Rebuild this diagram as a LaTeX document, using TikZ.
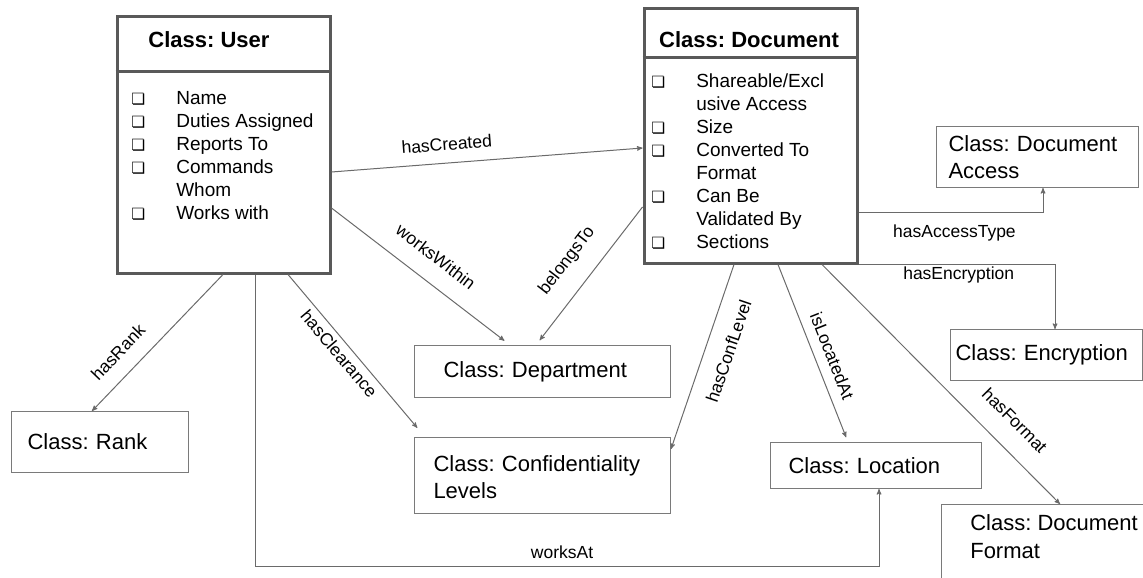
\documentclass[tikz,border=0pt]{standalone}
\usepackage{fontspec}
\setmainfont{Liberation Sans}
\newfontfamily\dejavu{DejaVu Sans}
\usetikzlibrary{arrows,positioning,calc}

\definecolor{framegray}{HTML}{595959}
\definecolor{boxgray}{HTML}{7A7A7A}
\definecolor{linkgray}{HTML}{6A6A6A}

\newcommand{\chk}{{\dejavu\fontsize{15.5}{15}\selectfont\raisebox{-0.5pt}{❏}}}
\newcommand{\attrs}[1]{{\fontsize{19}{23}\selectfont\begin{tabular}{@{}p{45pt}@{}l@{}}#1\end{tabular}}}

\begin{document}
\frenchspacing
\begin{tikzpicture}[x=1pt, y=-1pt, >=stealth', semithick]

    \tikzstyle{bigclass} = [rectangle, draw=framegray, line width=3pt, inner sep=0pt]
    \tikzstyle{classtitle} = [font=\bfseries\fontsize{22}{26}\selectfont, inner sep=0pt]
    \tikzstyle{attrlist} = [anchor=north west, inner sep=0pt]
    \tikzstyle{classbox} = [rectangle, draw=boxgray, line width=1pt, anchor=north west,
        align=left, font=\fontsize{22}{27}\selectfont]
    \tikzstyle{relation} = [->, draw=linkgray, line width=1pt]
    \tikzstyle{lbl} = [font=\fontsize{17.5}{20}\selectfont, inner sep=0pt, text=black]

    \useasboundingbox (0,0) rectangle (1143,578);
    \clip (0,0) rectangle (1143,578);

    % User class
    \node[bigclass, minimum width=213pt, minimum height=256pt] (user) at (223.5,145) {};
    \node[classtitle] (usertitle) at (209,40) {Class: User};
    \draw[framegray, line width=3pt] (user.west |- 0,72) -- (user.east |- 0,72);
    \node[attrlist] (userattrs) at (131,88) {\attrs{
        \chk & Name\\
        \chk & Duties Assigned\\
        \chk & Reports To\\
        \chk & Commands\\
             & Whom\\
        \chk & Works with}};

    % Document class
    \node[bigclass, minimum width=213pt, minimum height=254pt] (doc) at (750.5,136) {};
    \node[classtitle] (doctitle) at (749,40) {Class: Document};
    \draw[framegray, line width=3pt] (doc.west |- 0,58) -- (doc.east |- 0,58);
    \node[attrlist] (docattrs) at (651,71) {\attrs{
        \chk & Shareable/Excl\\
             & usive Access\\
        \chk & Size\\
        \chk & Converted To\\
             & Format\\
        \chk & Can Be\\
             & Validated By\\
        \chk & Sections}};

    % plain classes
    \node[classbox, minimum width=177pt, minimum height=61pt, inner xsep=16pt, text width=145pt] (rank) at (11,411) {Class: Rank};
    \node[classbox, minimum width=256pt, minimum height=52pt, inner xsep=29pt, text width=198pt] (dept) at (414,345) {Class: Department};
    \node[classbox, minimum width=256pt, minimum height=76pt, inner xsep=19pt, text width=218pt] (conf) at (414,437) {\rule{0pt}{20pt}Class: Confidentiality\\Levels};
    \node[classbox, minimum width=211pt, minimum height=46pt, inner xsep=18pt, text width=175pt] (loc) at (770,442) {Class: Location};
    \node[classbox, minimum width=202pt, minimum height=61pt, inner xsep=12pt, text width=178pt] (access) at (936,126) {Class: Document\\Access};
    \node[classbox, minimum width=192pt, minimum height=51pt, inner xsep=5pt, text width=182pt] (encr) at (950,329) {Class: Encryption};
    \node[classbox, minimum width=230pt, minimum height=110pt] (format) at (941,504) {};
    \node[anchor=north west, align=left, inner sep=0pt, font=\fontsize{22}{28}\selectfont] (formattext) at (970,514) {Class: Document\\Format};

    % relations
    \path
        (user.east |- 0,172) edge[relation] node[lbl, sloped, above=12pt, pos=.375] {hasCreated} (doc.west |- 0,148)
        (user.east |- 0,208) edge[relation, shorten >=7pt] node[lbl, sloped, above=18pt, pos=.5] {worksWithin} (dept.north -| 510,0)
        (doc.west |- 0,207)  edge[relation, shorten >=6pt] node[lbl, sloped, above=18pt, pos=.51] {belongsTo} (dept.north -| 536,0)
        (user.south -| 223,0) edge[relation] node[lbl, sloped, above=15pt, pos=.68] {hasRank} (rank.north -| 92,0)
        (user.south -| 288,0) edge[relation, shorten >=12pt] node[lbl, sloped, below=5pt, pos=.44] {hasClearance} (conf.north -| 425,0)
        (doc.south -| 734,0) edge[relation] node[lbl, sloped, below=16pt, pos=.43] {hasConfLevel} (conf.east |- 0,449)
        (doc.south -| 778,0) edge[relation, shorten >=5pt] node[lbl, sloped, above=10pt, pos=.55] {isLocatedAt} (loc.north -| 848,0)
        (doc.south -| 822,0) edge[relation] node[lbl, sloped, above=20pt, pos=.73] {hasFormat} (format.north -| 1060,0)
    ;

    \draw[relation] (doc.east |- 0,212) -| node[lbl, below=12pt, pos=.26] {hasAccessType} (access.south -| 1043,0);
    \draw[relation] (doc.south east) -| node[lbl, below=2pt, pos=.255] {hasEncryption} (encr.north -| 1055,0);

    \coordinate (atcorner) at (879,566);
    \draw[relation] (user.south -| 255,0) |- node[lbl, above=7pt, pos=.746] {worksAt} (atcorner) -- (loc.south -| atcorner);

\end{tikzpicture}
\end{document}
